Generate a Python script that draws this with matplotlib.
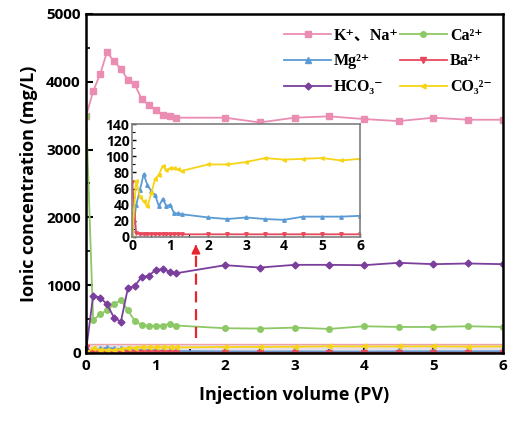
import matplotlib
matplotlib.use("Agg")
import matplotlib.pyplot as plt

# injection volume (PV)
pv = [0, 0.1, 0.2, 0.3, 0.4, 0.5, 0.6, 0.7, 0.8, 0.9, 1.0, 1.1, 1.2, 1.3,
      2.0, 2.5, 3.0, 3.5, 4.0, 4.5, 5.0, 5.5, 6.0]

# ion concentrations (mg/L)
k_na = [3500, 3860, 4110, 4440, 4300, 4190, 4030, 3960, 3740, 3660, 3590, 3510, 3490, 3470,
        3470, 3400, 3470, 3490, 3450, 3420, 3470, 3440, 3440]
ca = [3500, 483, 571, 630, 719, 778, 630, 472, 415, 396, 405, 405, 428, 405,
      365, 360, 374, 355, 394, 384, 384, 394, 384]
mg = [0, 39, 58, 78, 64, 57, 52, 38, 47, 38, 40, 29, 29, 28,
      24, 22, 24, 22, 21, 25, 25, 25, 26]
ba = [68, 5, 3, 3, 3, 3, 3, 3, 3, 3, 3, 3, 3, 3,
      3, 3, 3, 3, 3, 3, 3, 3, 3]
hco3 = [50, 842, 817, 720, 522, 462, 955, 990, 1122, 1137, 1226, 1236, 1200, 1177,
        1295, 1260, 1300, 1300, 1295, 1330, 1310, 1320, 1310]
co3 = [0, 70, 50, 44, 38, 54, 72, 77, 88, 83, 85, 85, 84, 82,
       90, 90, 93, 98, 96, 97, 98, 95, 97]

labels = ["K⁺、Na⁺", "Ca²⁺", "Mg²⁺", "Ba²⁺", "HCO₃⁻", "CO₃²⁻"]
colors = ["#eb8db3", "#8dc866", "#5b9bd5", "#e8495a", "#7a3f9c", "#f7d417"]
markers = ["s", "o", "^", "v", "D", "<"]
series = [k_na, ca, mg, ba, hco3, co3]

zoom_range = 140      # highlighted band, shown in inset
arrow_x = 1.58
arrow_y = (225, 1640)

plt.rcParams["font.family"] = ["Open Sans", "DejaVu Sans"]
plt.rcParams["font.weight"] = "bold"

fig = plt.figure(figsize=(5.10, 4.23), dpi=100)
ax = fig.add_axes([0.169, 0.1655, 0.817, 0.8015])

lines = []
for y, lab, c, m in zip(series, labels, colors, markers):
    ms = 3.5 if m in ("D", "<") else 4
    ln, = ax.plot(pv, y, color=c, marker=m, markersize=ms, lw=1.3, label=lab)
    lines.append(ln)

ax.axhspan(0, zoom_range, facecolor="#dcd3de", alpha=0.7,
           edgecolor="#ee8088", lw=1, zorder=0.5)

ax.plot([arrow_x, arrow_x], [arrow_y[0], arrow_y[1] - 100], ls=(0, (5, 3)),
        color="#e8242c", lw=1.6)
ax.annotate("", xy=(arrow_x, arrow_y[1]), xytext=(arrow_x, arrow_y[1] - 120),
            arrowprops=dict(arrowstyle="-|>", color="#e8242c", lw=1.5,
                            mutation_scale=12))

ax.set_xlim(0, 6)
ax.set_ylim(0, 5000)
ax.set_xticks(range(0, 7))
ax.set_yticks(range(0, 5001, 1000))
ax.set_xticks([i + 0.5 for i in range(6)], minor=True)
ax.set_yticks(range(500, 5000, 1000), minor=True)
ax.tick_params(which="major", direction="in", length=5, width=1.5,
               labelsize=11, pad=4)
ax.tick_params(which="minor", direction="in", length=3, width=1.2)
for sp in ax.spines.values():
    sp.set_linewidth(1.8)
ax.set_xlabel("Injection volume (PV)", fontsize=13, fontweight="bold", labelpad=10)
ax.set_ylabel("Ionic concentration (mg/L)", fontsize=13, fontweight="bold", labelpad=6)

# row-wise legend order for 2 columns
order = [0, 2, 4, 1, 3, 5]
leg = ax.legend([lines[i] for i in order], [labels[i] for i in order],
                ncol=2, loc="upper right", bbox_to_anchor=(1.0, 0.993),
                frameon=False, handlelength=2.9, handletextpad=0.2,
                columnspacing=0.1, labelspacing=0.62, borderaxespad=0.3,
                prop={"family": ["Liberation Serif", "Noto Sans CJK SC", "DejaVu Serif"],
                      "weight": "bold", "size": 11.5})

# inset
ins = fig.add_axes([0.2594, 0.4404, 0.4465, 0.2657])
for y, lab, c, m in zip(series, labels, colors, markers):
    if y is k_na or y is ca or y is hco3:
        continue
    ins.plot(pv, y, color=c, marker=m, markersize=2.5, lw=1.3)
ins.set_xlim(0, 6)
ins.set_ylim(0, 140)
ins.set_xticks(range(0, 7))
ins.set_yticks(range(0, 141, 20))
ins.set_xticks([i + 0.5 for i in range(6)], minor=True)
ins.set_yticks(range(10, 140, 20), minor=True)
ins.tick_params(which="major", direction="in", length=3, width=1,
                labelsize=10, pad=2)
ins.tick_params(which="minor", direction="in", length=2, width=0.8)
for sp in ins.spines.values():
    sp.set_color("#7f7f7f")
    sp.set_linewidth(1.2)

fig.savefig("out.png", dpi=100)
